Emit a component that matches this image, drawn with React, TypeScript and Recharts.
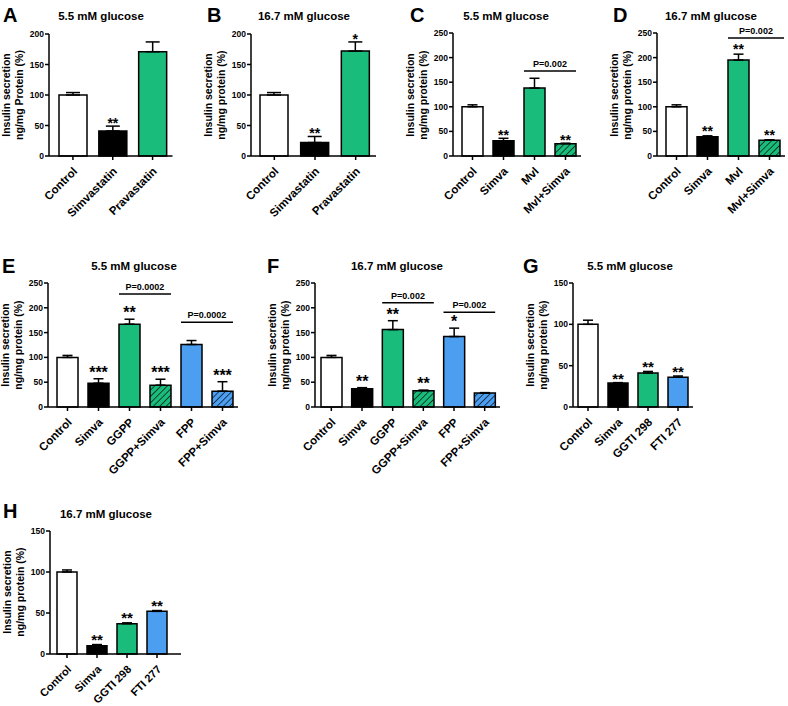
import React from 'react';
import { ComposedChart, Bar, XAxis, YAxis, ErrorBar, Cell, LabelList, ReferenceLine } from 'recharts';

const FONT = '"Liberation Sans", Arial, Helvetica, sans-serif';
const GREEN = '#1ABC7C';
const BLUE = '#4C9EF0';
const WHITE = '#FFFFFF';
const BLACK = '#000000';
const GREEN_H = 'url(#hatchGreen)';
const BLUE_H = 'url(#hatchBlue)';

// ---------- data ----------
const catsA = ['Control', 'Simvastatin', 'Pravastatin'];
const valsA = [100, 41, 171];
const errsA = [4, 8, 16];
const starsA = ['', '**', ''];

const catsB = ['Control', 'Simvastatin', 'Pravastatin'];
const valsB = [100, 22, 172];
const errsB = [4, 10, 15];
const starsB = ['', '**', '*'];

const catsC = ['Control', 'Simva', 'Mvl', 'Mvl+Simva'];
const valsC = [100, 31, 138, 25];
const errsC = [4, 5, 20, 1];
const starsC = ['', '**', '', '**'];
const bracketsC = [{ from: 'Mvl', to: 'Mvl+Simva', y: 173, text: 'P=0.002' }];

const catsD = ['Control', 'Simva', 'Mvl', 'Mvl+Simva'];
const valsD = [100, 39, 195, 32];
const errsD = [4, 2, 12, 1];
const starsD = ['', '**', '**', '**'];
const bracketsD = [{ from: 'Mvl', to: 'Mvl+Simva', y: 240, text: 'P=0.002' }];

const catsE = ['Control', 'Simva', 'GGPP', 'GGPP+Simva', 'FPP', 'FPP+Simva'];
const valsE = [100, 48, 167, 44, 126, 32];
const errsE = [4, 9, 10, 12, 8, 19];
const starsE = ['', '***', '**', '***', '', '***'];
const bracketsE = [
  { from: 'GGPP', to: 'GGPP+Simva', y: 228, text: 'P=0.0002' },
  { from: 'FPP', to: 'FPP+Simva', y: 171, text: 'P=0.0002' },
];

const catsF = ['Control', 'Simva', 'GGPP', 'GGPP+Simva', 'FPP', 'FPP+Simva'];
const valsF = [100, 37, 156, 33, 142, 28];
const errsF = [4, 2, 18, 1, 17, 1];
const starsF = ['', '**', '**', '**', '*', ''];
const bracketsF = [
  { from: 'GGPP', to: 'GGPP+Simva', y: 210, text: 'P=0.002' },
  { from: 'FPP', to: 'FPP+Simva', y: 191, text: 'P=0.002' },
];

const catsG = ['Control', 'Simva', 'GGTI 298', 'FTI 277'];
const valsG = [100, 29, 41, 36];
const errsG = [5, 0.5, 2, 1.5];
const starsG = ['', '**', '**', '**'];

const catsH = ['Control', 'Simva', 'GGTI 298', 'FTI 277'];
const valsH = [100, 10, 37, 52];
const errsH = [2.5, 1.5, 1, 1];
const starsH = ['', '**', '**', '**'];

const ticks200 = [0, 50, 100, 150, 200];
const ticks250 = [0, 50, 100, 150, 200, 250];
const ticks150 = [0, 50, 100, 150];

// ---------- styles ----------
const fills3 = [WHITE, BLACK, GREEN];
const fills4mvl = [WHITE, BLACK, GREEN, GREEN_H];
const fills6 = [WHITE, BLACK, GREEN, GREEN_H, BLUE, BLUE_H];
const fills4ggti = [WHITE, BLACK, GREEN, BLUE];

const makeXTick = (fs: number) => (props: any) => {
  const { x, y, payload } = props;
  const ax = x + 5;
  const ay = y + 10;
  return (
    <text
      x={ax}
      y={ay}
      transform={`rotate(-45 ${ax} ${ay})`}
      textAnchor="end"
      fontSize={fs}
      fontWeight="bold"
      fontFamily={FONT}
      fill="#000"
    >
      {payload.value}
    </text>
  );
};

type Bracket = { from: string; to: string; y: number; text: string };

type PanelProps = {
  cats: string[];
  vals: number[];
  errs: number[];
  stars: string[];
  fills: string[];
  x0: number;
  x1: number;
  y0: number;
  y1: number;
  yMax: number;
  ticks: number[];
  barSize: number;
  cap: number;
  padL: number;
  padR: number;
  brackets?: Bracket[];
  starFont: number;
  starDy: number;
  bracketExtR?: number;
  labelFont?: number;
};

function Panel(p: PanelProps) {
  const YW = 30;
  const MT = 22;
  const MR = 8;
  const XH = 85;
  const width = YW + (p.x1 - p.x0) + MR;
  const height = MT + (p.y1 - p.y0) + XH;
  const data = p.cats.map((c, i) => ({ name: c, value: p.vals[i], err: [0, p.errs[i]] }));
  const half = p.barSize / 2;
  const extR = p.bracketExtR || 0;
  const XTick = makeXTick(p.labelFont || 11.5);

  const starContent = (lp: any) => {
    const { x, y, width: w, height: h, index } = lp;
    const s = p.stars[index];
    if (!s) return null;
    const v = p.vals[index];
    const pxPer = v ? h / v : 0;
    const top = y - p.errs[index] * pxPer;
    return (
      <text
        x={x + w / 2}
        y={top + p.starDy}
        textAnchor="middle"
        fontSize={p.starFont}
        fontWeight="bold"
        fontFamily={FONT}
        fill="#000"
      >
        {s}
      </text>
    );
  };

  const bracketShape = (text: string) => (lp: any) => {
    const { x1, x2, y1 } = lp;
    return (
      <g>
        <line x1={x1 - half} x2={x2 + half + extR} y1={y1} y2={y1} stroke="#000" strokeWidth={1.5} />
        <text
          x={(x1 + x2) / 2 + extR / 2}
          y={y1 - 4}
          textAnchor="middle"
          fontSize={9}
          fontWeight="bold"
          fontFamily={FONT}
          fill="#000"
        >
          {text}
        </text>
      </g>
    );
  };

  return (
    <div style={{ position: 'absolute', left: p.x0 - YW, top: p.y0 - MT }}>
      <ComposedChart
        width={width}
        height={height}
        data={data}
        margin={{ top: MT, right: MR, bottom: 0, left: 0 }}
      >
        <XAxis
          dataKey="name"
          type="category"
          interval={0}
          tick={<XTick />}
          tickSize={4}
          height={XH}
          padding={{ left: p.padL, right: p.padR }}
          axisLine={{ stroke: '#000', strokeWidth: 1.5 }}
          tickLine={{ stroke: '#000', strokeWidth: 1.5 }}
        />
        <YAxis
          domain={[0, p.yMax]}
          ticks={p.ticks}
          interval={0}
          width={YW}
          tickSize={4}
          tickMargin={1}
          axisLine={{ stroke: '#000', strokeWidth: 1.5 }}
          tickLine={{ stroke: '#000', strokeWidth: 1.5 }}
          tick={{ fontSize: 8.5, fontWeight: 'bold', fontFamily: FONT, fill: '#000' }}
        />
        <Bar dataKey="value" barSize={p.barSize} stroke="#000" strokeWidth={1.5} isAnimationActive={false}>
          {p.cats.map((c, i) => (
            <Cell key={c} fill={p.fills[i]} />
          ))}
          <ErrorBar dataKey="err" width={p.cap} stroke="#000" strokeWidth={1.5} direction="y" isAnimationActive={false} />
          <LabelList dataKey="value" content={starContent} />
        </Bar>
        {(p.brackets || []).map((b) => (
          <ReferenceLine
            key={b.from + b.to}
            segment={[
              { x: b.from, y: b.y },
              { x: b.to, y: b.y },
            ]}
            shape={bracketShape(b.text)}
          />
        ))}
      </ComposedChart>
    </div>
  );
}

const txt = { fontFamily: FONT, fontWeight: 'bold' as const, fill: '#000' };

function Letter({ x, y, t }: { x: number; y: number; t: string }) {
  return (
    <text x={x} y={y} fontSize={20} {...txt}>
      {t}
    </text>
  );
}

function Title({ x, y, t }: { x: number; y: number; t: string }) {
  return (
    <text x={x} y={y} fontSize={11.5} textAnchor="middle" {...txt}>
      {t}
    </text>
  );
}

function YLabel({ ax, cy, second }: { ax: number; cy: number; second: string }) {
  return (
    <g>
      <text x={ax - 39} y={cy} fontSize={10.5} textAnchor="middle" transform={`rotate(-90 ${ax - 39} ${cy})`} {...txt}>
        Insulin secretion
      </text>
      <text x={ax - 26} y={cy} fontSize={10.5} textAnchor="middle" transform={`rotate(-90 ${ax - 26} ${cy})`} {...txt}>
        {second}
      </text>
    </g>
  );
}

export default function App() {
  return (
    <div style={{ position: 'absolute', left: 0, top: 0, width: 788, height: 706, background: '#fff', overflow: 'hidden' }}>
      <svg width={0} height={0} style={{ position: 'absolute' }}>
        <defs>
          <pattern id="hatchGreen" patternUnits="userSpaceOnUse" width={4.5} height={4.5} patternTransform="rotate(45)">
            <rect width={4.5} height={4.5} fill={GREEN} />
            <line x1={0} y1={0} x2={0} y2={4.5} stroke="#000" strokeWidth={1.3} />
          </pattern>
          <pattern id="hatchBlue" patternUnits="userSpaceOnUse" width={4.5} height={4.5} patternTransform="rotate(45)">
            <rect width={4.5} height={4.5} fill={BLUE} />
            <line x1={0} y1={0} x2={0} y2={4.5} stroke="#000" strokeWidth={1.3} />
          </pattern>
        </defs>
      </svg>

      <Panel cats={catsA} vals={valsA} errs={errsA} stars={starsA} fills={fills3}
        x0={48.5} x1={172} y0={34} y1={156} yMax={200} ticks={ticks200}
        barSize={28} cap={7} padL={4} padR={0} starFont={14} starDy={2} />
      <Panel cats={catsB} vals={valsB} errs={errsB} stars={starsB} fills={fills3}
        x0={251} x1={376} y0={34} y1={156} yMax={200} ticks={ticks200}
        barSize={28} cap={7} padL={3} padR={0} starFont={14} starDy={2} />
      <Panel cats={catsC} vals={valsC} errs={errsC} stars={starsC} fills={fills4mvl}
        x0={453} x1={581} y0={33} y1={156} yMax={250} ticks={ticks250}
        barSize={21} cap={5} padL={4} padR={0} brackets={bracketsC} starFont={14} starDy={2} />
      <Panel cats={catsD} vals={valsD} errs={errsD} stars={starsD} fills={fills4mvl}
        x0={657} x1={785} y0={33} y1={156} yMax={250} ticks={ticks250}
        barSize={21} cap={5} padL={4} padR={0} brackets={bracketsD} starFont={14} starDy={0} bracketExtR={4} />

      <Panel cats={catsE} vals={valsE} errs={errsE} stars={starsE} fills={fills6}
        x0={48} x1={238} y0={283} y1={407} yMax={250} ticks={ticks250}
        barSize={21} cap={5} padL={4} padR={0} brackets={bracketsE} starFont={16} starDy={-1} />
      <Panel cats={catsF} vals={valsF} errs={errsF} stars={starsF} fills={fills6}
        x0={315} x1={500} y0={283} y1={407} yMax={250} ticks={ticks250}
        barSize={21} cap={5} padL={1} padR={0} brackets={bracketsF} starFont={16} starDy={-1} />
      <Panel cats={catsG} vals={valsG} errs={errsG} stars={starsG} fills={fills4ggti}
        x0={573} x1={693} y0={283} y1={407} yMax={150} ticks={ticks150}
        barSize={20} cap={5} padL={0} padR={0} starFont={15} starDy={1} />

      <Panel cats={catsH} vals={valsH} errs={errsH} stars={starsH} fills={fills4ggti}
        x0={50} x1={181} y0={531} y1={654} yMax={150} ticks={ticks150}
        barSize={20} cap={5} padL={2} padR={9} starFont={15} starDy={0} labelFont={11} />

      <svg width={788} height={706} style={{ position: 'absolute', left: 0, top: 0, pointerEvents: 'none' }}>
        <Letter x={3} y={22} t="A" />
        <Letter x={207} y={22} t="B" />
        <Letter x={410} y={22} t="C" />
        <Letter x={613} y={22} t="D" />
        <Letter x={2} y={273} t="E" />
        <Letter x={267} y={273} t="F" />
        <Letter x={523} y={273} t="G" />
        <Letter x={3} y={518} t="H" />

        <Title x={101} y={20} t="5.5 mM glucose" />
        <Title x={304} y={20} t="16.7 mM glucose" />
        <Title x={506} y={20} t="5.5 mM glucose" />
        <Title x={711} y={20} t="16.7 mM glucose" />
        <Title x={134} y={270} t="5.5 mM glucose" />
        <Title x={397} y={270} t="16.7 mM glucose" />
        <Title x={630} y={270} t="5.5 mM glucose" />
        <Title x={106} y={518} t="16.7 mM glucose" />

        <YLabel ax={48.5} cy={95} second="ng/mg Protein (%)" />
        <YLabel ax={251} cy={95} second="ng/mg protein (%)" />
        <YLabel ax={453} cy={95} second="ng/mg protein (%)" />
        <YLabel ax={657} cy={95} second="ng/mg protein (%)" />
        <YLabel ax={48} cy={345} second="ng/mg protein (%)" />
        <YLabel ax={315} cy={345} second="ng/mg protein (%)" />
        <YLabel ax={573} cy={345} second="ng/mg protein (%)" />
        <YLabel ax={50} cy={592} second="ng/mg protein (%)" />
      </svg>
    </div>
  );
}
